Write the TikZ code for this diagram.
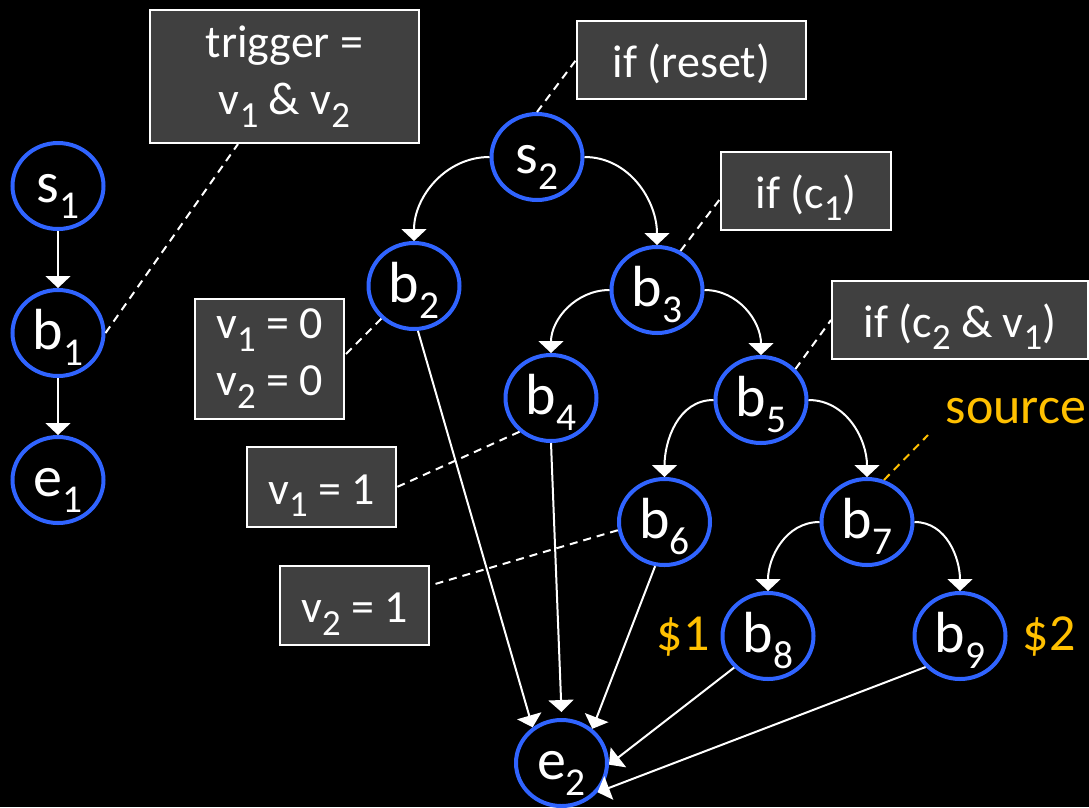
\documentclass[tikz,border=0pt]{standalone}
\usepackage{fontspec}
\setmainfont{Carlito}
\usetikzlibrary{arrows.meta,shapes.geometric}
\definecolor{nodeblue}{RGB}{48,100,255}
\definecolor{boxgray}{RGB}{64,64,64}
\definecolor{gold}{RGB}{255,192,0}
\newcommand{\sbx}[2][.8]{\raisebox{-.28em}{\scalebox{#1}{#2}}}
\tikzset{blk/.style={ellipse,draw=nodeblue,line width=4pt,fill=black,text=white,minimum width=91pt,minimum height=86pt,inner sep=0pt,text height=32pt,text depth=0pt,font=\fontsize{58}{64}\selectfont},cond/.style={rectangle,draw=white,line width=2pt,fill=boxgray,text=white,align=center,inner sep=0pt,font=\fontsize{46}{57}\selectfont},oneline/.style={text height=34pt,text depth=0pt},edge/.style={-{Triangle[width=25pt,length=12pt]},line width=2pt,draw=white},note/.style={dash pattern=on 8pt off 6pt,line width=2pt,draw=white},cost/.style={text=gold,font=\fontsize{52}{60}\selectfont}}

\begin{document}
\begin{tikzpicture}[x=1pt,y=1pt]
\fill[black] (0,0) rectangle (1089,-807);
\useasboundingbox (0,0) rectangle (1089,-807);
% conditions
\node[cond,minimum width=269pt,minimum height=133pt] (trig) at (284.5,-76.5){trigger =\\v\sbx{1} \& v\sbx{2}};
\node[cond,minimum width=149pt,minimum height=120pt] (init) at (269.5,-359){v\sbx{1} = 0\\v\sbx{2} = 0};
\node[cond,oneline,minimum width=229pt,minimum height=78pt] (rst) at (691.5,-60){if (reset)};
\node[cond,oneline,minimum width=170pt,minimum height=78pt] (cone) at (806,-191){if (c\sbx{1})};
\node[cond,oneline,minimum width=256pt,minimum height=78pt] (ctwo) at (960,-320){if (c\sbx{2} \& v\sbx{1})};
\node[cond,oneline,minimum width=149pt,minimum height=80pt] (vone) at (321.5,-487){v\sbx{1} = 1};
\node[cond,oneline,minimum width=149pt,minimum height=79pt] (vtwo) at (354.5,-605.5){v\sbx{2} = 1};
% blocks
\node[blk] (s1) at (58,-186){s\sbx[.68]{1}};
\node[blk] (b1) at (58,-333){b\sbx[.68]{1}};
\node[blk] (e1) at (58,-480){e\sbx[.68]{1}};
\node[blk] (s2) at (537,-157){s\sbx[.68]{2}};
\node[blk] (b2) at (414,-286){b\sbx[.68]{2}};
\node[blk] (b3) at (657,-290){b\sbx[.68]{3}};
\node[blk] (b4) at (551,-398){b\sbx[.68]{4}};
\node[blk] (b5) at (761,-400){b\sbx[.68]{5}};
\node[blk] (b6) at (664.5,-522){b\sbx[.68]{6}};
\node[blk] (b7) at (867,-522){b\sbx[.68]{7}};
\node[blk] (b8) at (768,-636){b\sbx[.68]{8}};
\node[blk] (b9) at (960,-636){b\sbx[.68]{9}};
\node[blk] (e2) at (561.5,-763){e\sbx[.68]{2}};
\node[cost,anchor=base] (src) at (1016,-423){source};
\node[cost,anchor=base] (cst1) at (683,-650){\$1};
\node[cost,anchor=base] (cst2) at (1049,-650){\$2};
\coordinate (srcpt) at (928,-435);
% edges
\draw[edge] (s1) -- (b1);
\draw[edge] (b1) -- (e1);
\draw[edge] (s2.west) to[out=180,in=90] (b2.north);
\draw[edge] (s2.east) to[out=0,in=90] (b3.north);
\draw[edge] (b3.west) to[out=180,in=90] (b4.north);
\draw[edge] (b3.east) to[out=0,in=90] (b5.north);
\draw[edge] (b5.west) to[out=180,in=90] (b6.north);
\draw[edge] (b5.east) to[out=0,in=90] (b7.north);
\draw[edge] (b7.west) to[out=180,in=90] (b8.north);
\draw[edge] (b7.east) to[out=0,in=90] (b9.north);
\draw[edge] (b2.275) -- (e2.129);
\draw[edge] (b4.south) -- ([yshift=6pt]e2.north);
\draw[edge] (b6.258) -- (e2.48);
\draw[edge] (b8.223) -- (e2.358);
\draw[edge] (b9.222) -- (e2.321);
% annotations
\draw[note] (b1.east) -- ([xshift=-46.5pt]trig.south);
\draw[note] (b2.225) -- ([yshift=4pt]init.east);
\draw[note] (s2.north) -- (rst.west);
\draw[note] (b3.59) -- ([yshift=-8pt]cone.west);
\draw[note] (b5.42) -- (ctwo.west);
\draw[note] (b4.227) -- (vone.east);
\draw[note] (b6.190) -- ([yshift=20pt]vtwo.east);
\draw[note,draw=gold] (b7.68) -- (srcpt);
\end{tikzpicture}
\end{document}
